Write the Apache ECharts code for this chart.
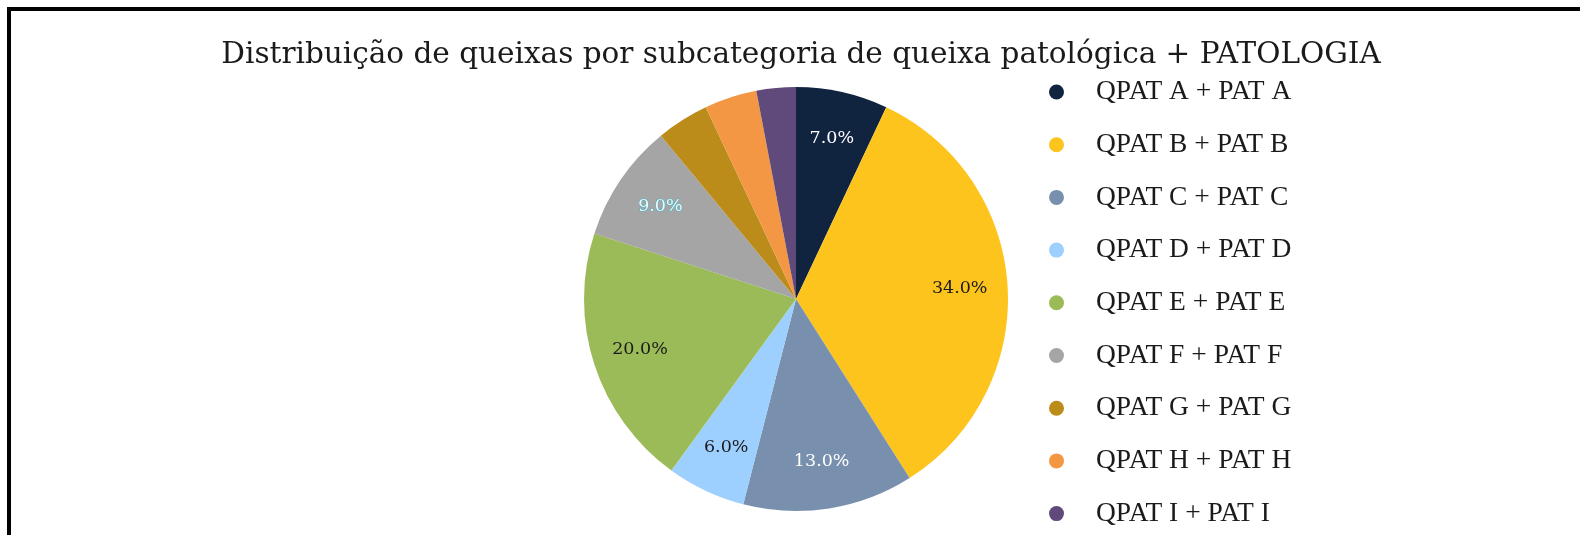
<!DOCTYPE html>
<html>
<head>
<meta charset="utf-8">
<script src="https://cdn.jsdelivr.net/npm/echarts@6/dist/echarts.min.js"></script>
<style>
  html, body { margin: 0; padding: 0; background: #fff; }
  #chart { position: absolute; left: 0; top: 0; width: 1580px; height: 535px; }
  #frame { position: absolute; left: 7px; top: 7px; width: 1700px; height: 700px;
           border-top: 4px solid #000; border-left: 4px solid #000; pointer-events: none; }
</style>
</head>
<body>
<div id="chart"></div>
<div id="frame"></div>
<script>
// data
const categories = ['QPAT A + PAT A', 'QPAT B + PAT B', 'QPAT C + PAT C', 'QPAT D + PAT D',
  'QPAT E + PAT E', 'QPAT F + PAT F', 'QPAT G + PAT G', 'QPAT H + PAT H', 'QPAT I + PAT I']
const shares = [7, 34, 13, 6, 20, 9, 4, 4, 3]
const colors = ['#10233f', '#fdc41e', '#7890ae', '#9dcfff', '#9bbb59', '#a5a5a5', '#bc8c1a', '#f49745', '#5f4a7b']
// label colour per slice (null = no label)
const labelColors = ['#ffffff', '#1a1a1a', '#ffffff', '#1a1a1a', '#1a1a1a', '#e6fafd', null, null, null]

const chart = echarts.init(document.getElementById('chart'))

const pieData = categories.map((name, i) => ({ name, value: shares[i], itemStyle: { color: colors[i] } }))
const labelData = categories.map((name, i) => ({
  name, value: shares[i],
  itemStyle: { color: 'rgba(0,0,0,0)' },
  label: labelColors[i]
    ? { show: true, color: labelColors[i],
        textBorderColor: i === 5 ? '#35b7c9' : 'transparent', textBorderWidth: i === 5 ? 0.8 : 0 }
    : { show: false }
}))

chart.setOption({
  animation: false,
  title: {
    text: 'Distribuição de queixas por subcategoria de queixa patológica + PATOLOGIA',
    left: 796, top: 35, textAlign: 'center',
    textStyle: { fontFamily: 'DejaVu Serif', fontSize: 29.5, fontWeight: 'normal', color: '#1a1a1a' }
  },
  legend: {
    orient: 'vertical', left: 1049, top: 78, height: 470, padding: 0,
    data: categories,
    icon: 'circle', itemWidth: 15, itemHeight: 15, itemGap: 24.7,
    textStyle: { fontFamily: 'Liberation Serif', fontSize: 27.5, lineHeight: 27, color: '#1a1a1a', padding: [0, 0, 0, 27] },
    selectedMode: false
  },
  series: [
    {
      type: 'pie', center: [796, 299], radius: [0, 212],
      startAngle: 90, clockwise: true,
      label: { show: false }, labelLine: { show: false },
      emphasis: { disabled: true },
      data: pieData
    },
    {
      // transparent ring only used to place labels at ~3/4 of the radius
      type: 'pie', center: [796, 299], radius: [110, 212],
      startAngle: 90, clockwise: true, silent: true,
      label: { position: 'inside', fontFamily: 'DejaVu Serif', fontSize: 17.5,
               formatter: p => p.value.toFixed(1) + '%' },
      labelLine: { show: false },
      emphasis: { disabled: true },
      data: labelData
    }
  ]
})
</script>
</body>
</html>
